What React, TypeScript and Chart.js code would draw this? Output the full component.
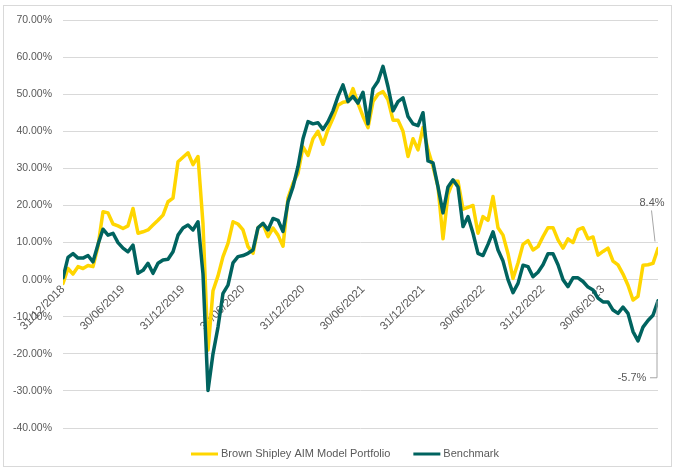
import React, { useEffect, useRef } from "react";
import { Chart, registerables } from "chart.js";

Chart.register(...registerables);

// Series names
const seriesNames = ["Brown Shipley AIM Model Portfolio", "Benchmark"];

// Cumulative performance (%), half-monthly observations from 31/12/2018
const portfolio = [
  -1, 3.0, 1.5, 3.5, 3.0, 3.8, 3.5, 9.0, 18.3, 18.0,
  15.0, 14.5, 13.8, 14.5, 19.2, 12.5, 12.9, 13.4, 14.7, 16.0,
  17.4, 21.0, 22.0, 31.8, 33.0, 34.2, 31.0, 33.2, 15.0, -19.0,
  -3.0, 1.0, 6.2, 9.8, 15.6, 15.0, 13.4, 8.9, 7.1, 14.0,
  15.0, 11.6, 13.9, 12.0, 9.0, 22.0, 26.0, 28.7, 35.8, 33.5,
  38.0, 40.0, 36.5, 40.5, 43.5, 47.0, 47.8, 48.0, 51.5, 47.5,
  44.0, 41.0, 48.0, 50.0, 50.7, 48.5, 43.0, 43.0, 40.0, 33.2,
  38.0, 35.0, 41.0, 35.0, 30.5, 25.0, 11.0, 23.0, 26.5, 26.5,
  19.0, 19.5, 20.0, 12.5, 17.0, 16.0, 22.4, 14.0, 12.0, 7.0,
  0.3, 4.5, 9.5, 10.5, 8.0, 8.9, 11.6, 14.0, 14.0, 10.7,
  8.5, 11.0, 10.0, 13.5, 14.0, 11.0, 11.5, 6.6, 7.6, 8.5,
  5.0, 4.0, 1.5, -1.5, -5.5, -4.5, 3.9, 4.0, 4.4, 8.4,
];

const benchmark = [
  0.5, 6.0, 7.0, 5.8, 5.8, 6.5, 4.8, 9.5, 13.6, 12.0,
  12.5, 10.0, 8.5, 7.5, 9.3, 1.7, 2.5, 4.4, 1.7, 4.4,
  5.3, 5.5, 7.5, 12.0, 13.9, 14.7, 13.4, 15.6, 1.5, -29.9,
  -20.0, -12.8, -3.7, -1.5, 4.5, 6.2, 6.5, 7.1, 8.0, 14.0,
  15.2, 13.4, 16.5, 16.0, 13.0, 21.0, 25.0, 30.5, 38.0, 42.6,
  42.0, 42.3, 40.5, 42.6, 45.5, 49.4, 52.5, 48.0, 49.4, 47.6,
  50.5, 42.0, 51.5, 53.5, 57.5, 52.0, 45.5, 48.0, 49.0, 44.0,
  42.0, 41.5, 45.0, 32.0, 31.5, 25.0, 18.0, 25.0, 26.9, 25.0,
  14.3, 17.0, 12.5, 7.1, 6.5, 9.5, 12.9, 8.0, 5.0, 0.0,
  -3.5, -1.0, 3.9, 3.5, 0.8, 2.0, 4.0, 7.0, 7.0, 4.0,
  0.0, -1.9, 0.5, 0.5, -0.5, -2.0, -2.8, -5.0, -6.0, -6.0,
  -8.2, -9.1, -7.4, -9.1, -14.0, -16.5, -12.8, -11.0, -9.6, -5.7,
];

// X axis: months elapsed since 31/12/2018 (half-month sampling)
const months = portfolio.map((_, i) => i / 2);

const tickMonths = [0, 6, 12, 18, 24, 30, 36, 42, 48, 54];
const tickLabels = [
  "31/12/2018", "30/06/2019", "31/12/2019", "30/06/2020", "31/12/2020",
  "30/06/2021", "31/12/2021", "30/06/2022", "31/12/2022", "30/06/2023",
];

const Y_MIN = -40;
const Y_MAX = 70;
const Y_STEP = 10;

const YELLOW = "#FFD600";
const TEAL = "#00635F";
const TEXT = "#595959";
const GRID = "#D9D9D9";
const FONT = '"Liberation Sans", Arial, sans-serif';

const legendPlugin = {
  id: "customLegend",
  afterDraw(chart: any) {
    const ctx = chart.ctx;
    ctx.save();
    ctx.font = `11px ${FONT}`;
    const sample = 27;
    const gap = 3;
    const itemGap = 23;
    const items = chart.data.datasets.map((d: any) => ({
      label: d.label,
      color: d.borderColor,
      w: ctx.measureText(d.label).width,
    }));
    const total =
      items.reduce((s: number, it: any) => s + sample + gap + it.w, 0) +
      itemGap * (items.length - 1);
    let x = 345 - total / 2;
    const y = 454;
    items.forEach((it: any) => {
      ctx.strokeStyle = it.color;
      ctx.lineWidth = 3;
      ctx.beginPath();
      ctx.moveTo(x, y);
      ctx.lineTo(x + sample, y);
      ctx.stroke();
      ctx.fillStyle = TEXT;
      ctx.textAlign = "left";
      ctx.textBaseline = "middle";
      ctx.fillText(it.label, x + sample + gap, y);
      x += sample + gap + it.w + itemGap;
    });
    ctx.restore();
  },
};

const endLabelPlugin = {
  id: "endLabels",
  afterDatasetsDraw(chart: any) {
    const ctx = chart.ctx;
    const xs = chart.scales.x;
    const ys = chart.scales.y;
    const pIdx = portfolio.length - 1;
    const bIdx = benchmark.length - 1;
    const px = xs.getPixelForValue(months[pIdx]);
    const py = ys.getPixelForValue(portfolio[pIdx]);
    const bx = xs.getPixelForValue(months[bIdx]);
    const by = ys.getPixelForValue(benchmark[bIdx]);
    ctx.save();
    ctx.strokeStyle = "#A6A6A6";
    ctx.lineWidth = 1;
    // portfolio leader
    ctx.beginPath();
    ctx.moveTo(px - 6.5, py - 38);
    ctx.lineTo(px - 3, py - 7);
    ctx.stroke();
    // benchmark leader
    ctx.beginPath();
    ctx.moveTo(bx - 1, by);
    ctx.lineTo(bx - 1, by + 77);
    ctx.lineTo(bx - 8, by + 77);
    ctx.stroke();
    ctx.font = `11px ${FONT}`;
    ctx.fillStyle = TEXT;
    ctx.textAlign = "center";
    ctx.textBaseline = "middle";
    ctx.fillText(`${portfolio[pIdx].toFixed(1)}%`, px - 6, py - 45.5);
    ctx.fillText(`${benchmark[bIdx].toFixed(1)}%`, bx - 26, by + 77.5);
    ctx.restore();
  },
};

export default function App() {
  const canvasRef = useRef<HTMLCanvasElement | null>(null);

  useEffect(() => {
    if (!canvasRef.current) return;
    const chart = new Chart(canvasRef.current, {
      type: "line",
      data: {
        labels: months,
        datasets: [
          {
            label: seriesNames[0],
            data: portfolio,
            borderColor: YELLOW,
            backgroundColor: YELLOW,
            borderWidth: 3.5,
            borderJoinStyle: "round",
            borderCapStyle: "round",
            pointRadius: 0,
            tension: 0,
            order: 1,
          },
          {
            label: seriesNames[1],
            data: benchmark,
            borderColor: TEAL,
            backgroundColor: TEAL,
            borderWidth: 3.5,
            borderJoinStyle: "round",
            borderCapStyle: "round",
            pointRadius: 0,
            tension: 0,
            order: 0,
          },
        ],
      },
      options: {
        animation: false,
        responsive: false,
        maintainAspectRatio: false,
        layout: { padding: { top: 20, bottom: 39, left: 0, right: 17 } },
        plugins: {
          legend: { display: false },
          tooltip: { enabled: false },
        },
        scales: {
          x: {
            type: "linear",
            min: 0,
            max: months[months.length - 1],
            position: { y: 0 } as any,
            grid: { display: false, drawTicks: false },
            border: { display: false },
            afterBuildTicks: (s: any) => {
              s.ticks = tickMonths.map((v) => ({ value: v }));
            },
            ticks: {
              autoSkip: false,
              minRotation: 45,
              maxRotation: 45,
              padding: 3,
              color: TEXT,
              font: { family: FONT, size: 11.5 },
              callback: (v: any) => {
                const i = tickMonths.indexOf(Number(v));
                return i >= 0 ? tickLabels[i] : "";
              },
            },
          },
          y: {
            min: Y_MIN,
            max: Y_MAX,
            afterFit: (s: any) => {
              s.width = 63;
            },
            grid: { color: GRID, lineWidth: 1, drawTicks: false },
            border: { display: false },
            ticks: {
              stepSize: Y_STEP,
              padding: 11,
              color: TEXT,
              font: { family: FONT, size: 10.5 },
              callback: (v: any) => `${Number(v).toFixed(2)}%`,
            },
          },
        },
      },
      plugins: [legendPlugin, endLabelPlugin],
    } as any);
    return () => chart.destroy();
  }, []);

  return (
    <div
      style={{
        position: "absolute",
        left: 0,
        top: 0,
        width: 675,
        height: 467,
        background: "#fff",
      }}
    >
      <div
        style={{
          position: "absolute",
          left: 3,
          top: 5,
          width: 669,
          height: 462,
          border: "1px solid #D9D9D9",
          boxSizing: "border-box",
        }}
      />
      <canvas
        ref={canvasRef}
        width={675}
        height={467}
        style={{ position: "absolute", left: 0, top: 0 }}
      />
    </div>
  );
}
